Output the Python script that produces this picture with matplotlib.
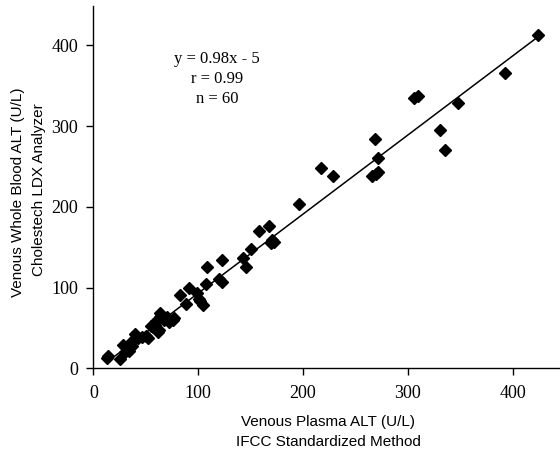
import numpy as np
import matplotlib
matplotlib.use("Agg")
import matplotlib.pyplot as plt

# venous plasma ALT (IFCC) vs whole blood ALT (Cholestech LDX), U/L
plasma_alt = [14, 13, 25, 28, 30, 34, 36, 37, 40, 43, 46, 50, 52, 55, 57,
              59, 62, 63, 60, 64, 64, 67, 70, 72, 76, 77, 83, 88, 91, 99,
              101, 102, 105, 107, 108, 120, 123, 123, 143, 146, 150, 158, 168, 169, 170,
              172, 196, 217, 229, 266, 269, 270, 272, 272, 306, 310, 331, 335, 348, 393, 424]
blood_alt = [15, 13, 12, 29, 20, 22, 32, 27, 43, 38, 39, 40, 38, 53, 51,
             54, 45, 48, 58, 64, 68, 60, 63, 57, 60, 62, 91, 80, 99, 93,
             86, 83, 78, 105, 125, 111, 134, 107, 137, 126, 148, 170, 176, 155, 159,
             156, 204, 248, 238, 238, 284, 241, 260, 243, 335, 337, 295, 271, 329, 366, 413]

slope, intercept = 0.98, -5
fit_text = ["y = 0.98x - 5", "r = 0.99", "n = 60"]

fig = plt.figure(figsize=(5.6, 4.54), dpi=100)
ax = fig.add_axes([0.1667, 0.1888, 0.833, 0.7982])

ax.plot(plasma_alt, blood_alt, linestyle="none", marker="D", markersize=5.8,
        color="black", zorder=3)

xfit = np.array([min(plasma_alt), max(plasma_alt)])
ax.plot(xfit, slope * xfit + intercept, color="black", linewidth=1.1, zorder=2)

ax.set_xlim(0, 445)
ax.set_ylim(0, 449)
ax.set_xticks([0, 100, 200, 300, 400])
ax.set_yticks([0, 100, 200, 300, 400])

for s in ["top", "right"]:
    ax.spines[s].set_visible(False)
for s in ["left", "bottom"]:
    ax.spines[s].set_linewidth(1.0)

ax.tick_params(direction="out", length=5, width=1.0, labelsize=13)
ax.tick_params(axis="x", pad=7)
ax.tick_params(axis="y", pad=6)
for lab in ax.get_xticklabels() + ax.get_yticklabels():
    lab.set_family("Liberation Serif")

for i, t in enumerate(fit_text):
    ax.text(118, 383 - i * 24.8, t, ha="center", va="center",
            family="Liberation Serif", fontsize=12)

fig.text(328 / 560, 1 - 422 / 454, "Venous Plasma ALT (U/L)", ha="center", va="center",
         family="Liberation Sans", fontsize=11)
fig.text(328 / 560, 1 - 442 / 454, "IFCC Standardized Method", ha="center", va="center",
         family="Liberation Sans", fontsize=11)
fig.text(18 / 560, 1 - 192 / 454, "Venous Whole Blood ALT (U/L)", ha="center", va="center",
         rotation=90, family="Liberation Sans", fontsize=11)
fig.text(39 / 560, 1 - 190 / 454, "Cholestech LDX Analyzer", ha="center", va="center",
         rotation=90, family="Liberation Sans", fontsize=11)

fig.savefig("out.png", dpi=100)
